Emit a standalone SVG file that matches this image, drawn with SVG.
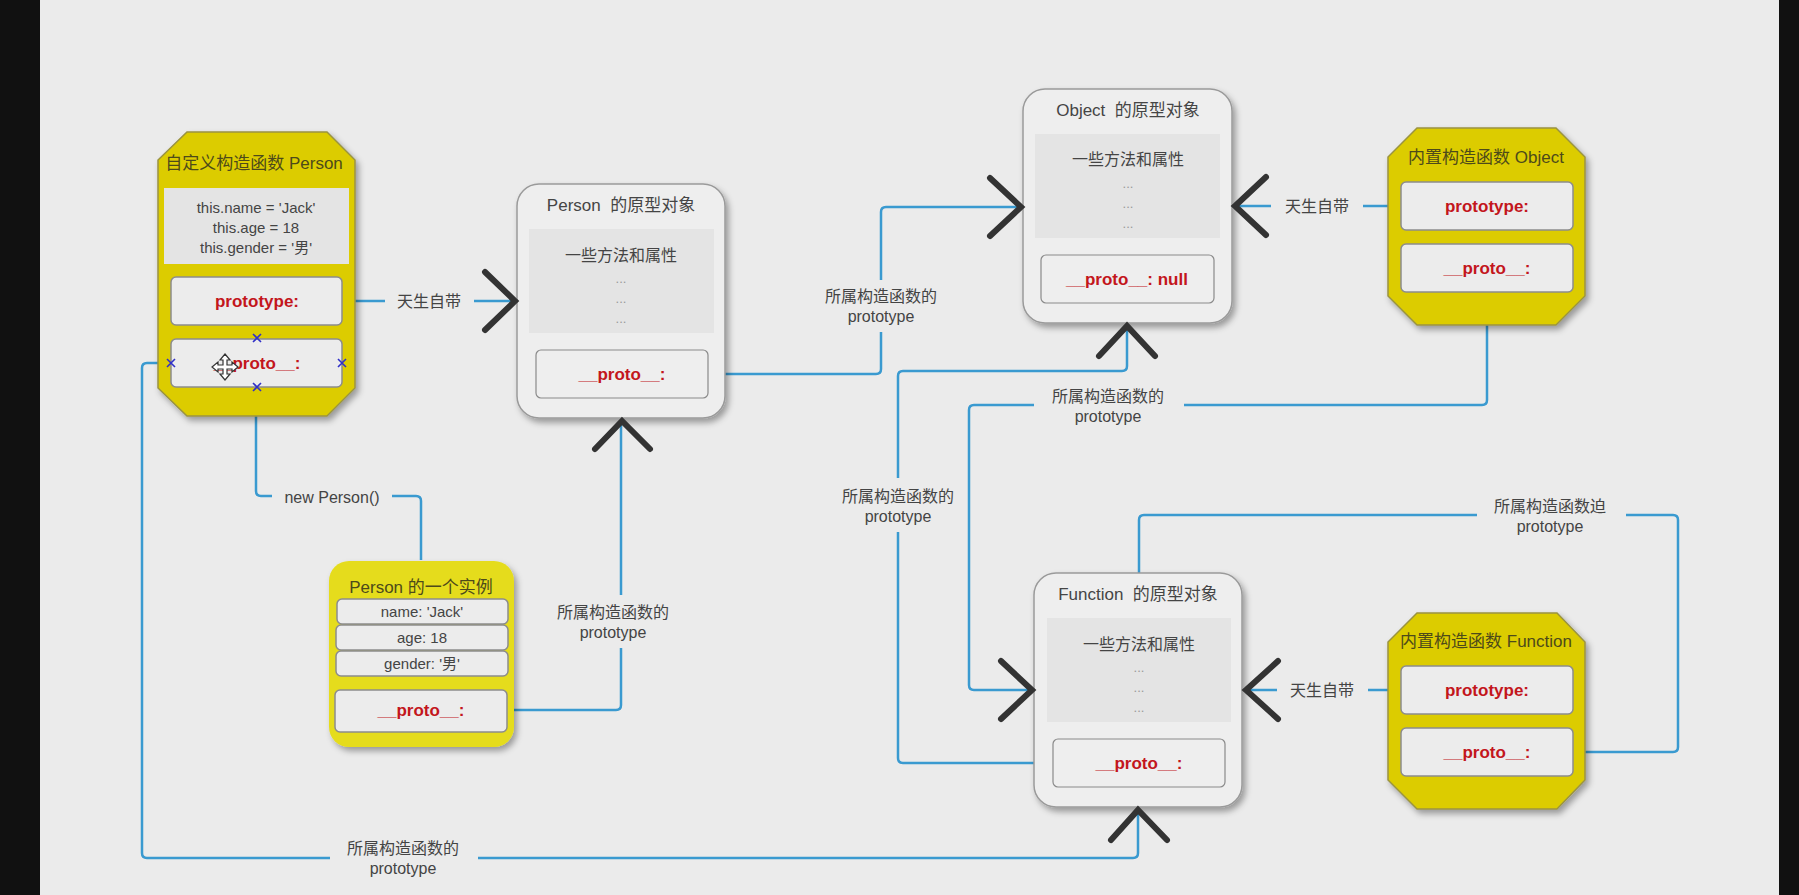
<svg xmlns="http://www.w3.org/2000/svg" width="1799" height="895" viewBox="0 0 1799 895">
<defs>
<filter id="sh" x="-20%" y="-20%" width="140%" height="140%">
<feDropShadow dx="3" dy="4" stdDeviation="3" flood-color="#000" flood-opacity="0.35"/>
</filter>
<style>
text{font-family:"Liberation Sans","Noto Sans CJK SC",sans-serif;text-anchor:middle;white-space:pre}
.oct{fill:#dccc00;stroke:#9a9340;stroke-width:1.5;filter:url(#sh)}
.inst{fill:#e5dc1e;stroke:none;filter:url(#sh)}
.ybox{fill:#ececec;stroke:#8c8c8c;stroke-width:1.5}
.gray{fill:#e4e4e4}
.pobj{fill:#eeeeee;stroke:#9a9a9a;stroke-width:1.5;filter:url(#sh)}
.ibox{fill:#eeeeee;stroke:#8a8a8a;stroke-width:1.2}
.ttl{font-size:17px;fill:#454545}
.ytl{font-size:17px;fill:#4d4a1a}
.red{font-size:17px;font-weight:bold;fill:#c3161c}
.t15{font-size:15px;fill:#444}
.t16{font-size:16px;fill:#444}
.dots{font-size:13px;fill:#999}
.lbl{font-size:16px;fill:#444}
.ln{fill:none;stroke:#3a9ad0;stroke-width:2.5}
.chev{fill:none;stroke:#333;stroke-width:6;stroke-linecap:round;stroke-linejoin:miter}
.mk{stroke:#3030c8;stroke-width:1.6}
</style>
</defs>
<rect x="0" y="0" width="1799" height="895" fill="#111"/>
<rect x="40" y="0" width="1739" height="895" fill="#ebebeb"/>

<g id="connectors">
<path class="ln" d="M342,301 H385 M474,301 H512"/>
<path class="ln" d="M256,416 V491 Q256,496 261,496 H272 M392,496 H416 Q421,496 421,501 V560"/>
<path class="ln" d="M507,710 H616 Q621,710 621,705 V648 M621,595 V424"/>
<path class="ln" d="M707,374 H876 Q881,374 881,369 V332 M881,280 V212 Q881,207 886,207 H1018"/>
<path class="ln" d="M1401,206 H1363 M1271,206 H1238"/>
<path class="ln" d="M1487,292 V400 Q1487,405 1482,405 H1184 M1034,405 H974 Q969,405 969,410 V685 Q969,690 974,690 H1029"/>
<path class="ln" d="M1053,763 H903 Q898,763 898,758 V532 M898,478 V376 Q898,371 903,371 H1122 Q1127,371 1127,366 V329"/>
<path class="ln" d="M171,363 H147 Q142,363 142,368 V853 Q142,858 147,858 H330 M478,858 H1133 Q1138,858 1138,853 V813"/>
<path class="ln" d="M1401,690 H1368 M1277,690 H1249"/>
<path class="ln" d="M1573,752 H1673 Q1678,752 1678,747 V520 Q1678,515 1673,515 H1626 M1477,515 H1144 Q1139,515 1139,520 V573"/>
<text class="lbl" x="429" y="307">天生自带</text>
<text class="lbl" x="332" y="503">new Person()</text>
<text class="lbl" x="613" y="618">所属构造函数的</text>
<text class="lbl" x="613" y="638">prototype</text>
<text class="lbl" x="881" y="302">所属构造函数的</text>
<text class="lbl" x="881" y="322">prototype</text>
<text class="lbl" x="1317" y="212">天生自带</text>
<text class="lbl" x="1108" y="402">所属构造函数的</text>
<text class="lbl" x="1108" y="422">prototype</text>
<text class="lbl" x="898" y="502">所属构造函数的</text>
<text class="lbl" x="898" y="522">prototype</text>
<text class="lbl" x="403" y="854">所属构造函数的</text>
<text class="lbl" x="403" y="874">prototype</text>
<text class="lbl" x="1322" y="696">天生自带</text>
<text class="lbl" x="1550" y="512">所属构造函数迫</text>
<text class="lbl" x="1550" y="532">prototype</text>
</g>

<g id="person-ctor">
<polygon class="oct" points="187,132 327,132 355,160 355,388 327,416 187,416 158,388 158,160"/>
<text class="ytl" x="254" y="169">自定义构造函数 Person</text>
<rect class="gray" x="164" y="188" width="185" height="76"/>
<text class="t15" x="256" y="213">this.name = 'Jack'</text>
<text class="t15" x="256" y="233">this.age = 18</text>
<text class="t15" x="256" y="253">this.gender = '男'</text>
<rect class="ybox" x="171" y="277" width="171" height="48" rx="5"/>
<text class="red" x="257" y="307">prototype:</text>
<rect class="ybox" x="171" y="339" width="171" height="48" rx="5"/>
<text class="red" x="257" y="369">__proto__:</text>
<path class="mk" d="M253,334 l8,8 m0,-8 l-8,8 M253,383 l8,8 m0,-8 l-8,8 M167,359 l8,8 m0,-8 l-8,8 M338,359 l8,8 m0,-8 l-8,8"/>
<path d="M225,354 l5,6 h-3 v5 h5 v-3 l6,5 l-6,5 v-3 h-5 v5 h3 l-5,6 l-5,-6 h3 v-5 h-5 v3 l-6,-5 l6,-5 v3 h5 v-5 h-3 z" fill="#fff" stroke="#333" stroke-width="1.2"/>
</g>

<g id="person-proto">
<rect class="pobj" x="517" y="184" width="208" height="234" rx="22"/>
<text class="ttl" x="621" y="211" xml:space="preserve">Person  的原型对象</text>
<rect class="gray" x="529" y="229" width="185" height="104"/>
<text class="t16" x="621" y="261">一些方法和属性</text>
<text class="dots" x="621" y="283">...</text>
<text class="dots" x="621" y="303">...</text>
<text class="dots" x="621" y="323">...</text>
<rect class="ibox" x="536" y="350" width="172" height="48" rx="5"/>
<text class="red" x="622" y="380">__proto__:</text>
</g>

<g id="object-proto">
<rect class="pobj" x="1023" y="89" width="209" height="234" rx="22"/>
<text class="ttl" x="1128" y="116" xml:space="preserve">Object  的原型对象</text>
<rect class="gray" x="1035" y="134" width="185" height="104"/>
<text class="t16" x="1128" y="165">一些方法和属性</text>
<text class="dots" x="1128" y="188">...</text>
<text class="dots" x="1128" y="208">...</text>
<text class="dots" x="1128" y="228">...</text>
<rect class="ibox" x="1041" y="255" width="173" height="48" rx="5"/>
<text class="red" x="1127" y="285">__proto__: null</text>
</g>

<g id="function-proto">
<rect class="pobj" x="1034" y="573" width="208" height="234" rx="22"/>
<text class="ttl" x="1138" y="600" xml:space="preserve">Function  的原型对象</text>
<rect class="gray" x="1047" y="618" width="184" height="104"/>
<text class="t16" x="1139" y="650">一些方法和属性</text>
<text class="dots" x="1139" y="672">...</text>
<text class="dots" x="1139" y="692">...</text>
<text class="dots" x="1139" y="712">...</text>
<rect class="ibox" x="1053" y="739" width="172" height="48" rx="5"/>
<text class="red" x="1139" y="769">__proto__:</text>
</g>

<g id="object-ctor">
<polygon class="oct" points="1417,128 1556,128 1585,157 1585,296 1556,325 1417,325 1388,296 1388,157"/>
<text class="ytl" x="1486" y="163">内置构造函数 Object</text>
<rect class="ybox" x="1401" y="182" width="172" height="48" rx="5"/>
<text class="red" x="1487" y="212">prototype:</text>
<rect class="ybox" x="1401" y="244" width="172" height="48" rx="5"/>
<text class="red" x="1487" y="274">__proto__:</text>
</g>

<g id="function-ctor">
<polygon class="oct" points="1417,613 1557,613 1585,642 1585,780 1557,809 1417,809 1388,780 1388,642"/>
<text class="ytl" x="1486" y="647">内置构造函数 Function</text>
<rect class="ybox" x="1401" y="666" width="172" height="48" rx="5"/>
<text class="red" x="1487" y="696">prototype:</text>
<rect class="ybox" x="1401" y="728" width="172" height="48" rx="5"/>
<text class="red" x="1487" y="758">__proto__:</text>
</g>

<g id="person-instance">
<rect class="inst" x="329" y="561" width="185" height="186" rx="20"/>
<text class="ytl" x="421" y="593">Person 的一个实例</text>
<rect class="ybox" x="337" y="599" width="171" height="25" rx="5"/>
<text class="t15" x="422" y="617">name: 'Jack'</text>
<rect class="ybox" x="336" y="625" width="172" height="25" rx="5"/>
<text class="t15" x="422" y="643">age: 18</text>
<rect class="ybox" x="336" y="651" width="172" height="25" rx="5"/>
<text class="t15" x="422" y="669">gender: '男'</text>
<rect class="ybox" x="335" y="690" width="172" height="42" rx="5"/>
<text class="red" x="421" y="716">__proto__:</text>
</g>

<g id="arrowheads">
<path class="chev" d="M485,272 L515,301 L485,330"/>
<path class="chev" d="M990,178 L1021,207 L990,236"/>
<path class="chev" d="M1266,177 L1235,206 L1266,235"/>
<path class="chev" d="M1099,356 L1127,326 L1155,356"/>
<path class="chev" d="M595,449 L622,421 L650,449"/>
<path class="chev" d="M1001,661 L1032,690 L1001,719"/>
<path class="chev" d="M1278,661 L1246,690 L1278,719"/>
<path class="chev" d="M1111,840 L1138,810 L1167,840"/>
</g>
</svg>
